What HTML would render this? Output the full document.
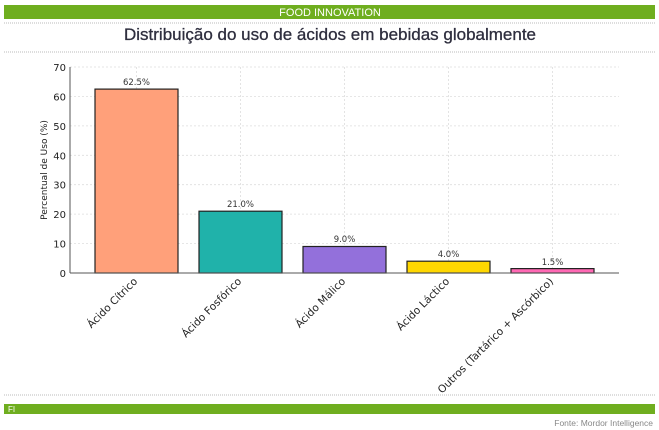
<!DOCTYPE html>
<html><head><meta charset="utf-8"><style>
html,body{margin:0;padding:0;background:#fff;}
svg{display:block;}
</style></head><body>
<svg width="659" height="430" xmlns="http://www.w3.org/2000/svg" font-family="DejaVu Sans, Liberation Sans, sans-serif">
<rect x="4" y="5" width="651" height="14" fill="#6fae1f"/>
<text x="330" y="16" text-anchor="middle" font-size="11" fill="#fff" font-family="Liberation Sans, sans-serif">FOOD INNOVATION</text>
<line x1="4" y1="23" x2="655" y2="23" stroke="#bbb" stroke-dasharray="1,1"/>
<text x="330" y="40" text-anchor="middle" font-size="17" fill="#2e2e3e" font-family="Liberation Sans, sans-serif" stroke="#2e2e3e" stroke-width="0.3">Distribuição do uso de ácidos em bebidas globalmente</text>
<line x1="4" y1="52" x2="655" y2="52" stroke="#bbb" stroke-dasharray="1,1"/>
<g stroke="#ddd" stroke-width="0.8" stroke-dasharray="2,2">
<line x1="70" y1="67" x2="619" y2="67"/><line x1="70" y1="96.4" x2="619" y2="96.4"/>
<line x1="70" y1="125.9" x2="619" y2="125.9"/><line x1="70" y1="155.3" x2="619" y2="155.3"/>
<line x1="70" y1="184.7" x2="619" y2="184.7"/><line x1="70" y1="214.1" x2="619" y2="214.1"/>
<line x1="70" y1="243.6" x2="619" y2="243.6"/>
<line x1="136.5" y1="67" x2="136.5" y2="273"/><line x1="240.5" y1="67" x2="240.5" y2="273"/>
<line x1="344.5" y1="67" x2="344.5" y2="273"/><line x1="448.5" y1="67" x2="448.5" y2="273"/>
<line x1="552.5" y1="67" x2="552.5" y2="273"/>
</g>
<g stroke="#222" stroke-width="1.2">
<rect x="95" y="89.1" width="83" height="183.9" fill="#FFA07A"/>
<rect x="199" y="211.2" width="83" height="61.8" fill="#20B2AA"/>
<rect x="303" y="246.5" width="83" height="26.5" fill="#9370DB"/>
<rect x="407" y="261.2" width="83" height="11.8" fill="#FFD700"/>
<rect x="511" y="268.6" width="83" height="4.4" fill="#FF69B4"/>
</g>
<g font-size="8.5" fill="#333" text-anchor="middle">
<text x="136.5" y="85">62.5%</text><text x="240.5" y="207">21.0%</text>
<text x="344.5" y="242">9.0%</text><text x="448.5" y="257">4.0%</text><text x="552.5" y="265">1.5%</text>
</g>
<line x1="70" y1="67" x2="70" y2="273" stroke="#555"/>
<line x1="70" y1="273" x2="619" y2="273" stroke="#555"/>
<g font-size="10" fill="#222" text-anchor="end">
<text x="66" y="277">0</text><text x="66" y="247.6">10</text><text x="66" y="218.1">20</text>
<text x="66" y="188.7">30</text><text x="66" y="159.3">40</text><text x="66" y="129.9">50</text>
<text x="66" y="100.4">60</text><text x="66" y="71">70</text>
</g>
<text transform="translate(47,170) rotate(-90)" text-anchor="middle" font-size="9" fill="#222">Percentual de Uso (%)</text>
<g font-size="10.5" fill="#222" text-anchor="end">
<text transform="translate(138,282) rotate(-45)">Ácido Cítrico</text>
<text transform="translate(242,282) rotate(-45)">Ácido Fosfórico</text>
<text transform="translate(346,282) rotate(-45)">Ácido Málico</text>
<text transform="translate(450,282) rotate(-45)">Ácido Láctico</text>
<text transform="translate(554,282) rotate(-45)">Outros (Tartárico + Ascórbico)</text>
</g>
<line x1="4" y1="395" x2="655" y2="395" stroke="#bbb" stroke-dasharray="1,1"/>
<rect x="4" y="404" width="651" height="10" fill="#6fae1f"/>
<text x="8" y="412" font-size="8" fill="#fff" font-family="Liberation Sans, sans-serif">FI</text>
<text x="653" y="426" text-anchor="end" font-size="8.5" fill="#888" font-family="Liberation Sans, sans-serif">Fonte: Mordor Intelligence</text>
</svg>
</body></html>
